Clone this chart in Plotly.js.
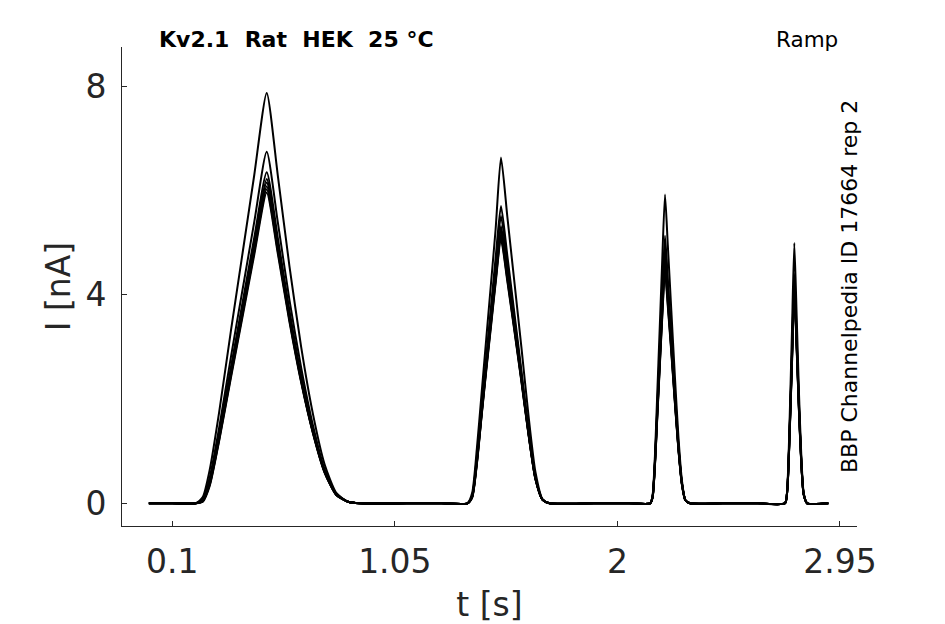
<!DOCTYPE html>
<html>
<head>
<meta charset="utf-8">
<script src="https://cdn.plot.ly/plotly-3.0.1.min.js"></script>
<style>
  html, body { margin: 0; padding: 0; background: #fff; }
  #chart { width: 945px; height: 624px; }
</style>
</head>
<body>
<div id="chart"></div>
<script>
// eight sweeps of the ramp protocol, current in nA, time in s
var sweepNames = ['sweep 1', 'sweep 2', 'sweep 3', 'sweep 4', 'sweep 5', 'sweep 6', 'sweep 7', 'sweep 8'];
var baseline = [0, 0, 0, 0, 0, 0, 0, 0];

// flat stretches between the ramps
var gapTimes = [[0, 0.1], [1.1, 1.25], [1.9, 2.05], [2.45, 2.6], [2.9]];

// ramp 1
var pulse1Times = [0.20, 0.23, 0.26, 0.30, 0.35, 0.40, 0.45, 0.503, 0.55, 0.60, 0.65, 0.70, 0.75, 0.80, 0.85, 0.90];
var pulse1Current = [
    [0, 0.12, 0.65, 1.75, 3.3, 4.8, 6.3, 7.87, 6.3, 4.55, 3.0, 1.72, 0.75, 0.2, 0.03, 0],
    [0, 0.08, 0.5, 1.45, 2.8, 4.1, 5.4, 6.74, 5.4, 3.9, 2.6, 1.5, 0.65, 0.18, 0.03, 0],
    [0, 0.06, 0.45, 1.35, 2.6, 3.85, 5.1, 6.35, 5.1, 3.7, 2.45, 1.42, 0.62, 0.17, 0.03, 0],
    [0, 0.05, 0.42, 1.3, 2.55, 3.78, 5.0, 6.22, 5.0, 3.62, 2.4, 1.4, 0.62, 0.17, 0.03, 0],
    [0, 0.05, 0.4, 1.28, 2.52, 3.73, 4.95, 6.15, 4.95, 3.58, 2.38, 1.38, 0.61, 0.17, 0.03, 0],
    [0, 0.04, 0.38, 1.25, 2.48, 3.68, 4.88, 6.08, 4.9, 3.55, 2.36, 1.37, 0.6, 0.16, 0.03, 0],
    [0, 0.04, 0.36, 1.22, 2.44, 3.63, 4.83, 6.02, 4.85, 3.52, 2.34, 1.36, 0.6, 0.16, 0.03, 0],
    [0, 0.03, 0.34, 1.2, 2.4, 3.58, 4.77, 5.96, 4.8, 3.48, 2.32, 1.35, 0.59, 0.16, 0.03, 0]
];

// ramp 2
var pulse2Times = [1.36, 1.38, 1.40, 1.42, 1.44, 1.46, 1.48, 1.503, 1.53, 1.56, 1.59, 1.62, 1.65, 1.68, 1.71];
var pulse2Current = [
    [0, 0.2, 1.05, 2.1, 3.15, 4.2, 5.25, 6.63, 5.5, 4.25, 3.0, 1.7, 0.6, 0.08, 0],
    [0, 0.15, 0.9, 1.85, 2.8, 3.75, 4.7, 5.70, 4.75, 3.65, 2.55, 1.45, 0.5, 0.07, 0],
    [0, 0.14, 0.85, 1.8, 2.72, 3.65, 4.55, 5.51, 4.6, 3.55, 2.48, 1.4, 0.5, 0.07, 0],
    [0, 0.13, 0.82, 1.74, 2.65, 3.55, 4.42, 5.32, 4.45, 3.45, 2.42, 1.37, 0.48, 0.07, 0],
    [0, 0.13, 0.8, 1.72, 2.62, 3.5, 4.36, 5.24, 4.4, 3.4, 2.4, 1.36, 0.48, 0.07, 0],
    [0, 0.12, 0.78, 1.7, 2.6, 3.46, 4.3, 5.17, 4.35, 3.37, 2.38, 1.35, 0.47, 0.07, 0],
    [0, 0.12, 0.77, 1.68, 2.57, 3.42, 4.26, 5.11, 4.3, 3.34, 2.36, 1.34, 0.47, 0.07, 0],
    [0, 0.11, 0.75, 1.66, 2.54, 3.38, 4.22, 5.06, 4.26, 3.31, 2.34, 1.33, 0.46, 0.07, 0]
];

// ramp 3
var pulse3Times = [2.14, 2.15, 2.16, 2.17, 2.18, 2.19, 2.203, 2.215, 2.23, 2.245, 2.26, 2.275, 2.29, 2.31];
var pulse3Current = [
    [0, 0.15, 0.9, 2.1, 3.3, 4.5, 5.92, 4.95, 3.7, 2.45, 1.3, 0.45, 0.06, 0],
    [0, 0.13, 0.8, 1.85, 2.9, 3.95, 5.13, 4.3, 3.25, 2.15, 1.15, 0.4, 0.06, 0],
    [0, 0.12, 0.78, 1.8, 2.8, 3.82, 4.95, 4.15, 3.15, 2.1, 1.12, 0.4, 0.06, 0],
    [0, 0.12, 0.76, 1.75, 2.72, 3.7, 4.8, 4.05, 3.08, 2.05, 1.1, 0.39, 0.06, 0],
    [0, 0.12, 0.75, 1.72, 2.67, 3.63, 4.7, 3.97, 3.02, 2.02, 1.08, 0.38, 0.06, 0],
    [0, 0.11, 0.73, 1.69, 2.62, 3.56, 4.6, 3.9, 2.97, 1.99, 1.07, 0.38, 0.06, 0],
    [0, 0.11, 0.72, 1.66, 2.58, 3.5, 4.52, 3.84, 2.93, 1.96, 1.06, 0.37, 0.06, 0],
    [0, 0.11, 0.71, 1.64, 2.55, 3.45, 4.45, 3.78, 2.89, 1.94, 1.05, 0.37, 0.06, 0]
];

// ramp 4
var pulse4Times = [2.715, 2.725, 2.735, 2.745, 2.755, 2.765, 2.775, 2.785, 2.795, 2.81];
var pulse4Current = [
    [0, 0.3, 1.6, 3.3, 4.99, 3.6, 2.1, 0.9, 0.2, 0],
    [0, 0.27, 1.42, 2.9, 4.4, 3.2, 1.9, 0.8, 0.18, 0],
    [0, 0.26, 1.4, 2.85, 4.32, 3.14, 1.86, 0.79, 0.18, 0],
    [0, 0.26, 1.37, 2.8, 4.25, 3.1, 1.83, 0.78, 0.18, 0],
    [0, 0.25, 1.35, 2.77, 4.2, 3.06, 1.81, 0.77, 0.17, 0],
    [0, 0.25, 1.34, 2.74, 4.15, 3.03, 1.79, 0.76, 0.17, 0],
    [0, 0.25, 1.32, 2.7, 4.1, 3.0, 1.77, 0.75, 0.17, 0],
    [0, 0.24, 1.3, 2.67, 4.05, 2.96, 1.75, 0.74, 0.17, 0]
];

var xTickVals = [0.1, 1.05, 2, 2.95];
var xTickText = ['0.1', '1.05', '2', '2.95'];
var yTickVals = [0, 4, 8];
var yTickText = ['0', '4', '8'];

var pulseTimes = [pulse1Times, pulse2Times, pulse3Times, pulse4Times];
var pulseCurrents = [pulse1Current, pulse2Current, pulse3Current, pulse4Current];

var data = sweepNames.map(function(name, i) {
    var x = [], y = [];
    for (var k = 0; k < gapTimes.length; k++) {
        for (var j = 0; j < gapTimes[k].length; j++) {
            x.push(gapTimes[k][j]);
            y.push(baseline[i]);
        }
        if (k < pulseTimes.length) {
            x = x.concat(pulseTimes[k]);
            y = y.concat(pulseCurrents[k][i]);
        }
    }
    return {
        x: x, y: y, name: name,
        type: 'scatter', mode: 'lines',
        line: { color: '#000', width: 2, shape: 'spline', smoothing: 0.6 },
        hoverinfo: 'skip'
    };
});

var ink = '#262626';
var font = 'DejaVu Sans, sans-serif';

var layout = {
    width: 945, height: 624,
    margin: { l: 122, r: 88, t: 47, b: 98 },
    paper_bgcolor: '#fff', plot_bgcolor: '#fff',
    showlegend: false,
    xaxis: {
        range: [-0.1147, 3.0226],
        tickvals: xTickVals, ticktext: xTickText,
        ticks: 'inside', ticklen: 5, tickcolor: ink, tickwidth: 1,
        showline: true, linecolor: ink, linewidth: 1,
        showgrid: false, zeroline: false,
        tickfont: { family: font, size: 33, color: ink },
        ticklabelstandoff: 6,
        title: { text: 't [s]', font: { family: font, size: 33, color: ink }, standoff: 14 }
    },
    yaxis: {
        range: [-0.435, 8.75],
        tickvals: yTickVals, ticktext: yTickText,
        ticks: 'inside', ticklen: 5, tickcolor: ink, tickwidth: 1,
        showline: true, linecolor: ink, linewidth: 1,
        showgrid: false, zeroline: false,
        tickfont: { family: font, size: 33, color: ink },
        ticklabelstandoff: 8,
        title: { text: 'I [nA]', font: { family: font, size: 33, color: ink }, standoff: 4 }
    },
    annotations: [
        {
            text: '<b>Kv2.1\u00a0\u00a0Rat\u00a0\u00a0HEK\u00a0\u00a025\u00a0°C</b>',
            xref: 'paper', yref: 'paper', x: 0.238, y: 1.015,
            xanchor: 'center', yanchor: 'middle', showarrow: false,
            font: { family: font, size: 22, color: '#000' }
        },
        {
            text: 'Ramp',
            xref: 'paper', yref: 'paper', x: 0.932, y: 1.015,
            xanchor: 'center', yanchor: 'middle', showarrow: false,
            font: { family: font, size: 21.5, color: '#000' }
        },
        {
            text: 'BBP Channelpedia ID 17664 rep 2',
            xref: 'paper', yref: 'paper', x: 0.9905, y: 0.499,
            xanchor: 'center', yanchor: 'middle', showarrow: false,
            textangle: -90,
            font: { family: font, size: 22, color: '#000' }
        }
    ]
};

Plotly.newPlot('chart', data, layout, { staticPlot: true, displayModeBar: false });
</script>
</body>
</html>
